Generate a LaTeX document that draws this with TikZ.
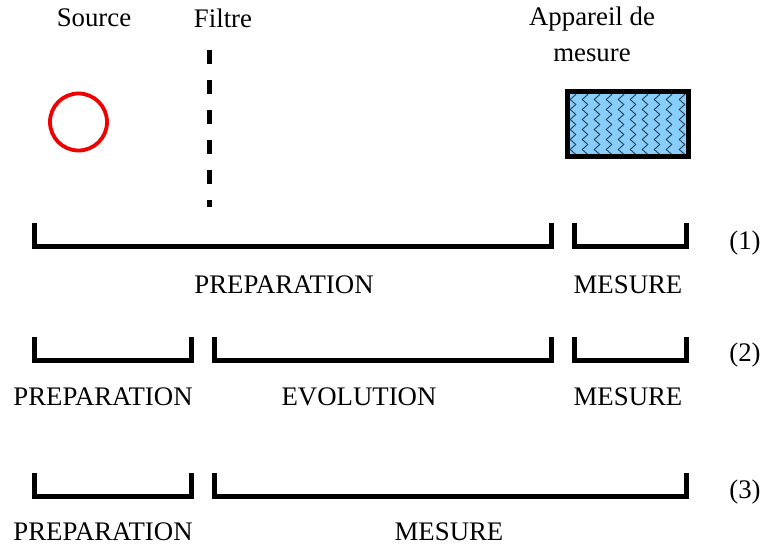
\documentclass[tikz,border=0pt]{standalone}
\usepackage{fontspec}
\setmainfont{Liberation Serif}
\usepackage{tikz}
\usetikzlibrary{decorations.pathmorphing}
\definecolor{src_red}{RGB}{240, 0, 0}
\definecolor{app_blue}{RGB}{135, 206, 250}
\definecolor{app_wave}{RGB}{45, 60, 80}
\tikzstyle{lbl}=[inner sep=0pt,font=\fontsize{13.4pt}{16pt}\selectfont]
\tikzstyle{none}=[inner sep=0pt,minimum size=0pt]
\tikzstyle{bracket}=[draw=black,line width=2.5pt,line join=miter]
\tikzstyle{wave}=[draw=app_wave,line width=0.45pt,
  decorate,decoration={zigzag,segment length=5pt,amplitude=1.4pt}]

\begin{document}
\begin{tikzpicture}[x=0.5pt,y=-0.5pt]
            \useasboundingbox (0,0) rectangle (764,550);
            % titres
            \node [style=lbl] (0) at (94, 18) {Source};
            \node [style=lbl] (1) at (223, 18) {Filtre};
            \node [style=lbl, align=center] (2) at (592, 34) {Appareil de\\[2pt]mesure};
            % source, filtre, appareil
            \node [circle, draw=src_red, line width=1.9pt, minimum size=28.5pt, inner sep=0pt] (3) at (78.5, 122) {};
            \node [style=none] (4) at (209.5, 50) {};
            \node [style=none] (5) at (209.5, 207) {};
            \draw [line width=2.2pt, dash pattern=on 7pt off 8pt] (4.center) to (5.center);
            \node [style=none] (6) at (567, 92) {};
            \node [style=none] (7) at (688, 157) {};
            \fill [app_blue] (6.center) rectangle (7.center);
            \begin{scope}
              \clip (6.center) rectangle (7.center);
              \draw [style=wave] (573, 92) to (573, 160);
              \draw [style=wave] (585, 92) to (585, 160);
              \draw [style=wave] (597, 92) to (597, 160);
              \draw [style=wave] (609, 92) to (609, 160);
              \draw [style=wave] (621, 92) to (621, 160);
              \draw [style=wave] (633, 92) to (633, 160);
              \draw [style=wave] (645, 92) to (645, 160);
              \draw [style=wave] (657, 92) to (657, 160);
              \draw [style=wave] (669, 92) to (669, 160);
              \draw [style=wave] (682, 92) to (682, 160);
            \end{scope}
            \draw [line width=2.5pt] (6.center) rectangle (7.center);
            % (1)
            \draw [style=bracket] (34, 223) |- (551, 247) -- (551, 223);
            \draw [style=bracket] (574, 223) |- (686, 247) -- (686, 223);
            \node [style=lbl] (10) at (745, 243) {(1)};
            \node [style=lbl] (11) at (284, 285) {PREPARATION};
            \node [style=lbl] (12) at (628, 285) {MESURE};
            % (2)
            \draw [style=bracket] (34, 337) |- (191, 360) -- (191, 337);
            \draw [style=bracket] (214, 337) |- (551, 360) -- (551, 337);
            \draw [style=bracket] (574, 337) |- (686, 360) -- (686, 337);
            \node [style=lbl] (20) at (745, 355) {(2)};
            \node [style=lbl] (21) at (103, 397) {PREPARATION};
            \node [style=lbl] (22) at (359, 397) {EVOLUTION};
            \node [style=lbl] (23) at (628, 397) {MESURE};
            % (3)
            \draw [style=bracket] (34, 473) |- (191, 496) -- (191, 473);
            \draw [style=bracket] (214, 473) |- (686, 496) -- (686, 473);
            \node [style=lbl] (30) at (745, 492) {(3)};
            \node [style=lbl] (31) at (103, 532) {PREPARATION};
            \node [style=lbl] (32) at (449, 532) {MESURE};
    \end{tikzpicture}
\end{document}
